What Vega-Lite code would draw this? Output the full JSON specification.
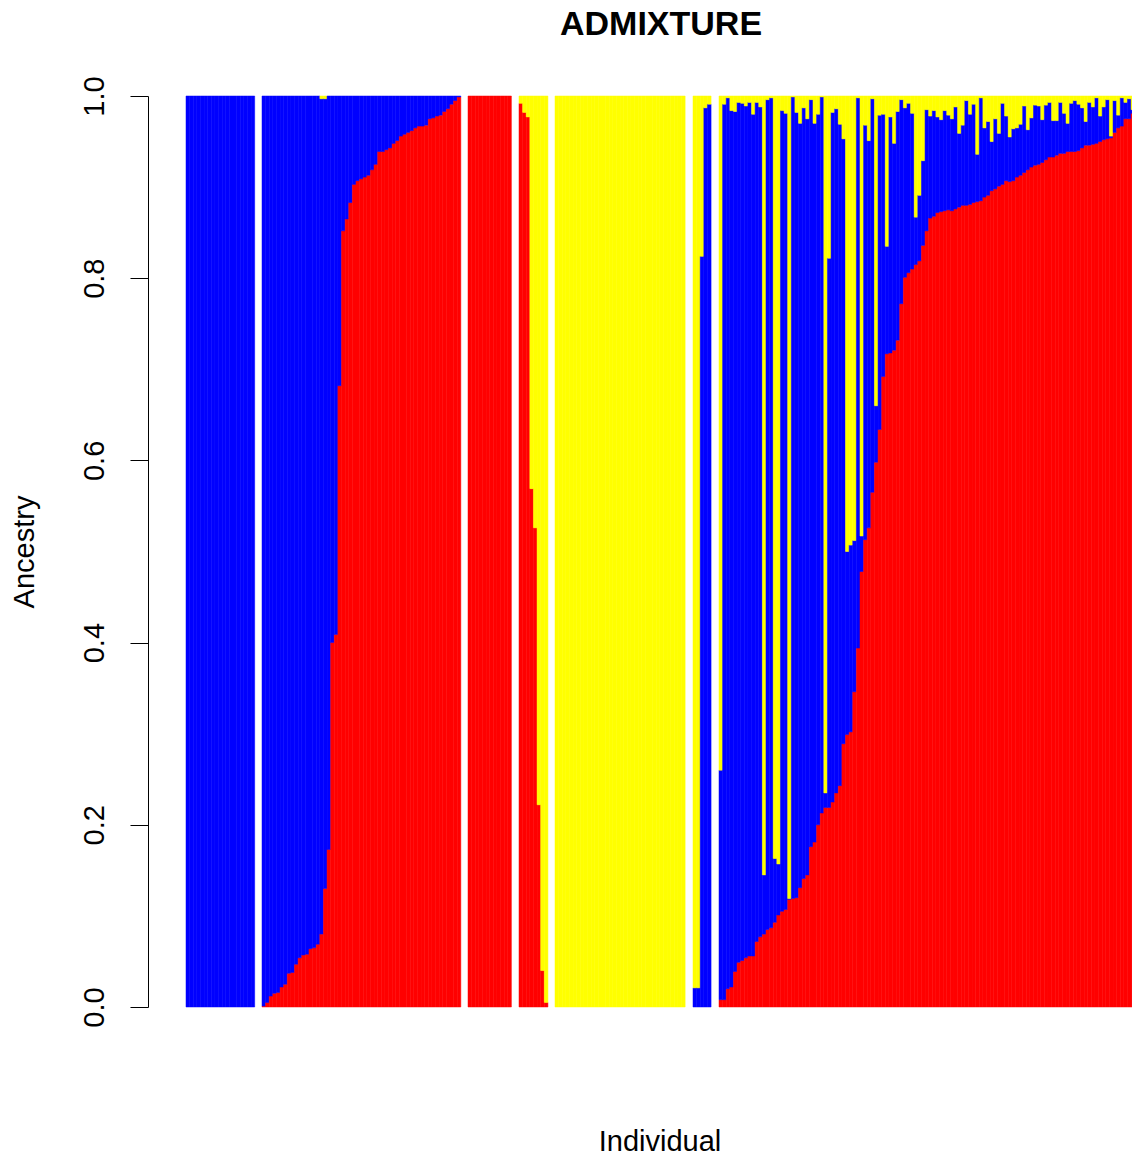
{
  "$schema": "https://vega.github.io/schema/vega-lite/v6.json",
  "padding": {"left": 10, "top": 7, "right": 0, "bottom": 0},
  "autosize": {"type": "pad"},
  "bounds": "flush",
  "title": {"text": "ADMIXTURE", "fontSize": 34, "font": "Liberation Sans", "fontWeight": "bold", "color": "black", "anchor": "middle", "frame": "group", "dx": 475, "offset": 34},
  "data": {"values": [
{"id":1,"g":1,"K1":0,"K2":1,"K3":0},{"id":2,"g":1,"K1":0,"K2":1,"K3":0},{"id":3,"g":1,"K1":0,"K2":1,"K3":0},{"id":4,"g":1,"K1":0,"K2":1,"K3":0},{"id":5,"g":1,"K1":0,"K2":1,"K3":0},{"id":6,"g":1,"K1":0,"K2":1,"K3":0},{"id":7,"g":1,"K1":0,"K2":1,"K3":0},{"id":8,"g":1,"K1":0,"K2":1,"K3":0},{"id":9,"g":1,"K1":0,"K2":1,"K3":0},{"id":10,"g":1,"K1":0,"K2":1,"K3":0},{"id":11,"g":1,"K1":0,"K2":1,"K3":0},{"id":12,"g":1,"K1":0,"K2":1,"K3":0},{"id":13,"g":1,"K1":0,"K2":1,"K3":0},{"id":14,"g":1,"K1":0,"K2":1,"K3":0},{"id":15,"g":1,"K1":0,"K2":1,"K3":0},{"id":16,"g":1,"K1":0,"K2":1,"K3":0},{"id":17,"g":1,"K1":0,"K2":1,"K3":0},{"id":18,"g":1,"K1":0,"K2":1,"K3":0},{"id":19,"g":1,"K1":0,"K2":1,"K3":0},
{"id":20,"g":2,"K1":0.001,"K2":0.999,"K3":0},{"id":21,"g":2,"K1":0.005,"K2":0.995,"K3":0},{"id":22,"g":2,"K1":0.012,"K2":0.988,"K3":0},{"id":23,"g":2,"K1":0.015,"K2":0.985,"K3":0},{"id":24,"g":2,"K1":0.016,"K2":0.984,"K3":0},{"id":25,"g":2,"K1":0.022,"K2":0.978,"K3":0},{"id":26,"g":2,"K1":0.025,"K2":0.975,"K3":0},{"id":27,"g":2,"K1":0.037,"K2":0.963,"K3":0},{"id":28,"g":2,"K1":0.038,"K2":0.962,"K3":0},{"id":29,"g":2,"K1":0.047,"K2":0.953,"K3":0},{"id":30,"g":2,"K1":0.054,"K2":0.946,"K3":0},{"id":31,"g":2,"K1":0.057,"K2":0.943,"K3":0},{"id":32,"g":2,"K1":0.058,"K2":0.942,"K3":0},{"id":33,"g":2,"K1":0.064,"K2":0.936,"K3":0},{"id":34,"g":2,"K1":0.065,"K2":0.935,"K3":0},{"id":35,"g":2,"K1":0.069,"K2":0.931,"K3":0},{"id":36,"g":2,"K1":0.080,"K2":0.917,"K3":0.003},{"id":37,"g":2,"K1":0.130,"K2":0.867,"K3":0.003},{"id":38,"g":2,"K1":0.173,"K2":0.827,"K3":0},{"id":39,"g":2,"K1":0.400,"K2":0.600,"K3":0},{"id":40,"g":2,"K1":0.409,"K2":0.591,"K3":0},{"id":41,"g":2,"K1":0.682,"K2":0.318,"K3":0},{"id":42,"g":2,"K1":0.852,"K2":0.148,"K3":0},{"id":43,"g":2,"K1":0.865,"K2":0.135,"K3":0},{"id":44,"g":2,"K1":0.883,"K2":0.117,"K3":0},{"id":45,"g":2,"K1":0.903,"K2":0.097,"K3":0},{"id":46,"g":2,"K1":0.907,"K2":0.093,"K3":0},{"id":47,"g":2,"K1":0.909,"K2":0.091,"K3":0},{"id":48,"g":2,"K1":0.911,"K2":0.089,"K3":0},{"id":49,"g":2,"K1":0.913,"K2":0.087,"K3":0},{"id":50,"g":2,"K1":0.919,"K2":0.081,"K3":0},{"id":51,"g":2,"K1":0.925,"K2":0.075,"K3":0},{"id":52,"g":2,"K1":0.939,"K2":0.061,"K3":0},{"id":53,"g":2,"K1":0.939,"K2":0.061,"K3":0},{"id":54,"g":2,"K1":0.941,"K2":0.059,"K3":0},{"id":55,"g":2,"K1":0.943,"K2":0.057,"K3":0},{"id":56,"g":2,"K1":0.948,"K2":0.052,"K3":0},{"id":57,"g":2,"K1":0.951,"K2":0.049,"K3":0},{"id":58,"g":2,"K1":0.956,"K2":0.044,"K3":0},{"id":59,"g":2,"K1":0.958,"K2":0.042,"K3":0},{"id":60,"g":2,"K1":0.960,"K2":0.040,"K3":0},{"id":61,"g":2,"K1":0.962,"K2":0.038,"K3":0},{"id":62,"g":2,"K1":0.965,"K2":0.035,"K3":0},{"id":63,"g":2,"K1":0.967,"K2":0.033,"K3":0},{"id":64,"g":2,"K1":0.967,"K2":0.033,"K3":0},{"id":65,"g":2,"K1":0.968,"K2":0.032,"K3":0},{"id":66,"g":2,"K1":0.975,"K2":0.025,"K3":0},{"id":67,"g":2,"K1":0.976,"K2":0.024,"K3":0},{"id":68,"g":2,"K1":0.978,"K2":0.022,"K3":0},{"id":69,"g":2,"K1":0.979,"K2":0.021,"K3":0},{"id":70,"g":2,"K1":0.983,"K2":0.017,"K3":0},{"id":71,"g":2,"K1":0.986,"K2":0.014,"K3":0},{"id":72,"g":2,"K1":0.991,"K2":0.009,"K3":0},{"id":73,"g":2,"K1":0.995,"K2":0.005,"K3":0},{"id":74,"g":2,"K1":0.999,"K2":0.001,"K3":0},
{"id":75,"g":3,"K1":1,"K2":0,"K3":0},{"id":76,"g":3,"K1":1,"K2":0,"K3":0},{"id":77,"g":3,"K1":1,"K2":0,"K3":0},{"id":78,"g":3,"K1":1,"K2":0,"K3":0},{"id":79,"g":3,"K1":1,"K2":0,"K3":0},{"id":80,"g":3,"K1":1,"K2":0,"K3":0},{"id":81,"g":3,"K1":1,"K2":0,"K3":0},{"id":82,"g":3,"K1":1,"K2":0,"K3":0},{"id":83,"g":3,"K1":1,"K2":0,"K3":0},{"id":84,"g":3,"K1":1,"K2":0,"K3":0},{"id":85,"g":3,"K1":1,"K2":0,"K3":0},{"id":86,"g":3,"K1":1,"K2":0,"K3":0},
{"id":87,"g":4,"K1":0.992,"K2":0,"K3":0.008},{"id":88,"g":4,"K1":0.982,"K2":0,"K3":0.018},{"id":89,"g":4,"K1":0.977,"K2":0,"K3":0.023},{"id":90,"g":4,"K1":0.569,"K2":0,"K3":0.431},{"id":91,"g":4,"K1":0.526,"K2":0,"K3":0.474},{"id":92,"g":4,"K1":0.222,"K2":0,"K3":0.778},{"id":93,"g":4,"K1":0.040,"K2":0,"K3":0.960},{"id":94,"g":4,"K1":0.005,"K2":0,"K3":0.995},
{"id":95,"g":5,"K1":0,"K2":0,"K3":1},{"id":96,"g":5,"K1":0,"K2":0,"K3":1},{"id":97,"g":5,"K1":0,"K2":0,"K3":1},{"id":98,"g":5,"K1":0,"K2":0,"K3":1},{"id":99,"g":5,"K1":0,"K2":0,"K3":1},{"id":100,"g":5,"K1":0,"K2":0,"K3":1},{"id":101,"g":5,"K1":0,"K2":0,"K3":1},{"id":102,"g":5,"K1":0,"K2":0,"K3":1},{"id":103,"g":5,"K1":0,"K2":0,"K3":1},{"id":104,"g":5,"K1":0,"K2":0,"K3":1},{"id":105,"g":5,"K1":0,"K2":0,"K3":1},{"id":106,"g":5,"K1":0,"K2":0,"K3":1},{"id":107,"g":5,"K1":0,"K2":0,"K3":1},{"id":108,"g":5,"K1":0,"K2":0,"K3":1},{"id":109,"g":5,"K1":0,"K2":0,"K3":1},{"id":110,"g":5,"K1":0,"K2":0,"K3":1},{"id":111,"g":5,"K1":0,"K2":0,"K3":1},{"id":112,"g":5,"K1":0,"K2":0,"K3":1},{"id":113,"g":5,"K1":0,"K2":0,"K3":1},{"id":114,"g":5,"K1":0,"K2":0,"K3":1},{"id":115,"g":5,"K1":0,"K2":0,"K3":1},{"id":116,"g":5,"K1":0,"K2":0,"K3":1},{"id":117,"g":5,"K1":0,"K2":0,"K3":1},{"id":118,"g":5,"K1":0,"K2":0,"K3":1},{"id":119,"g":5,"K1":0,"K2":0,"K3":1},{"id":120,"g":5,"K1":0,"K2":0,"K3":1},{"id":121,"g":5,"K1":0,"K2":0,"K3":1},{"id":122,"g":5,"K1":0,"K2":0,"K3":1},{"id":123,"g":5,"K1":0,"K2":0,"K3":1},{"id":124,"g":5,"K1":0,"K2":0,"K3":1},{"id":125,"g":5,"K1":0,"K2":0,"K3":1},{"id":126,"g":5,"K1":0,"K2":0,"K3":1},{"id":127,"g":5,"K1":0,"K2":0,"K3":1},{"id":128,"g":5,"K1":0,"K2":0,"K3":1},{"id":129,"g":5,"K1":0,"K2":0,"K3":1},{"id":130,"g":5,"K1":0,"K2":0,"K3":1},
{"id":131,"g":6,"K1":0,"K2":0.021,"K3":0.979},{"id":132,"g":6,"K1":0,"K2":0.021,"K3":0.979},{"id":133,"g":6,"K1":0,"K2":0.824,"K3":0.176},{"id":134,"g":6,"K1":0,"K2":0.987,"K3":0.013},{"id":135,"g":6,"K1":0,"K2":0.991,"K3":0.009},
{"id":136,"g":7,"K1":0.008,"K2":0.252,"K3":0.740},{"id":137,"g":7,"K1":0.008,"K2":0.983,"K3":0.009},{"id":138,"g":7,"K1":0.020,"K2":0.978,"K3":0.002},{"id":139,"g":7,"K1":0.022,"K2":0.962,"K3":0.016},{"id":140,"g":7,"K1":0.039,"K2":0.944,"K3":0.017},{"id":141,"g":7,"K1":0.049,"K2":0.944,"K3":0.007},{"id":142,"g":7,"K1":0.051,"K2":0.941,"K3":0.008},{"id":143,"g":7,"K1":0.054,"K2":0.935,"K3":0.011},{"id":144,"g":7,"K1":0.056,"K2":0.937,"K3":0.007},{"id":145,"g":7,"K1":0.056,"K2":0.924,"K3":0.020},
{"id":146,"g":7,"K1":0.072,"K2":0.921,"K3":0.007},{"id":147,"g":7,"K1":0.077,"K2":0.911,"K3":0.012},{"id":148,"g":7,"K1":0.080,"K2":0.065,"K3":0.855},{"id":149,"g":7,"K1":0.085,"K2":0.911,"K3":0.004},{"id":150,"g":7,"K1":0.087,"K2":0.911,"K3":0.002},{"id":151,"g":7,"K1":0.093,"K2":0.070,"K3":0.837},{"id":152,"g":7,"K1":0.101,"K2":0.056,"K3":0.843},{"id":153,"g":7,"K1":0.105,"K2":0.879,"K3":0.016},{"id":154,"g":7,"K1":0.107,"K2":0.874,"K3":0.019},{"id":155,"g":7,"K1":0.118,"K2":0.001,"K3":0.881},
{"id":156,"g":7,"K1":0.119,"K2":0.880,"K3":0.001},{"id":157,"g":7,"K1":0.120,"K2":0.862,"K3":0.018},{"id":158,"g":7,"K1":0.131,"K2":0.839,"K3":0.030},{"id":159,"g":7,"K1":0.141,"K2":0.846,"K3":0.013},{"id":160,"g":7,"K1":0.145,"K2":0.830,"K3":0.025},{"id":161,"g":7,"K1":0.176,"K2":0.820,"K3":0.004},{"id":162,"g":7,"K1":0.181,"K2":0.789,"K3":0.030},{"id":163,"g":7,"K1":0.200,"K2":0.780,"K3":0.020},{"id":164,"g":7,"K1":0.213,"K2":0.786,"K3":0.001},{"id":165,"g":7,"K1":0.219,"K2":0.016,"K3":0.765},
{"id":166,"g":7,"K1":0.219,"K2":0.603,"K3":0.178},{"id":167,"g":7,"K1":0.225,"K2":0.757,"K3":0.018},{"id":168,"g":7,"K1":0.235,"K2":0.751,"K3":0.014},{"id":169,"g":7,"K1":0.243,"K2":0.726,"K3":0.031},{"id":170,"g":7,"K1":0.289,"K2":0.664,"K3":0.047},{"id":171,"g":7,"K1":0.299,"K2":0.201,"K3":0.500},{"id":172,"g":7,"K1":0.302,"K2":0.205,"K3":0.493},{"id":173,"g":7,"K1":0.346,"K2":0.166,"K3":0.488},{"id":174,"g":7,"K1":0.394,"K2":0.604,"K3":0.002},{"id":175,"g":7,"K1":0.478,"K2":0.039,"K3":0.483},
{"id":176,"g":7,"K1":0.513,"K2":0.455,"K3":0.032},{"id":177,"g":7,"K1":0.526,"K2":0.425,"K3":0.049},{"id":178,"g":7,"K1":0.565,"K2":0.432,"K3":0.003},{"id":179,"g":7,"K1":0.598,"K2":0.062,"K3":0.340},{"id":180,"g":7,"K1":0.634,"K2":0.345,"K3":0.021},{"id":181,"g":7,"K1":0.692,"K2":0.288,"K3":0.020},{"id":182,"g":7,"K1":0.717,"K2":0.118,"K3":0.165},{"id":183,"g":7,"K1":0.718,"K2":0.259,"K3":0.023},{"id":184,"g":7,"K1":0.721,"K2":0.227,"K3":0.052},{"id":185,"g":7,"K1":0.732,"K2":0.251,"K3":0.017},
{"id":186,"g":7,"K1":0.772,"K2":0.224,"K3":0.004},{"id":187,"g":7,"K1":0.801,"K2":0.186,"K3":0.013},{"id":188,"g":7,"K1":0.806,"K2":0.186,"K3":0.008},{"id":189,"g":7,"K1":0.810,"K2":0.171,"K3":0.019},{"id":190,"g":7,"K1":0.815,"K2":0.052,"K3":0.133},{"id":191,"g":7,"K1":0.819,"K2":0.072,"K3":0.109},{"id":192,"g":7,"K1":0.836,"K2":0.093,"K3":0.071},{"id":193,"g":7,"K1":0.852,"K2":0.133,"K3":0.015},{"id":194,"g":7,"K1":0.866,"K2":0.112,"K3":0.022},{"id":195,"g":7,"K1":0.868,"K2":0.116,"K3":0.016},
{"id":196,"g":7,"K1":0.872,"K2":0.105,"K3":0.023},{"id":197,"g":7,"K1":0.873,"K2":0.101,"K3":0.026},{"id":198,"g":7,"K1":0.874,"K2":0.110,"K3":0.016},{"id":199,"g":7,"K1":0.875,"K2":0.104,"K3":0.021},{"id":200,"g":7,"K1":0.874,"K2":0.101,"K3":0.025},{"id":201,"g":7,"K1":0.876,"K2":0.112,"K3":0.012},{"id":202,"g":7,"K1":0.878,"K2":0.081,"K3":0.041},{"id":203,"g":7,"K1":0.880,"K2":0.088,"K3":0.032},{"id":204,"g":7,"K1":0.880,"K2":0.115,"K3":0.005},{"id":205,"g":7,"K1":0.881,"K2":0.099,"K3":0.020},
{"id":206,"g":7,"K1":0.883,"K2":0.108,"K3":0.009},{"id":207,"g":7,"K1":0.884,"K2":0.052,"K3":0.064},{"id":208,"g":7,"K1":0.885,"K2":0.113,"K3":0.002},{"id":209,"g":7,"K1":0.889,"K2":0.076,"K3":0.035},{"id":210,"g":7,"K1":0.891,"K2":0.081,"K3":0.028},{"id":211,"g":7,"K1":0.896,"K2":0.054,"K3":0.050},{"id":212,"g":7,"K1":0.898,"K2":0.077,"K3":0.025},{"id":213,"g":7,"K1":0.901,"K2":0.058,"K3":0.041},{"id":214,"g":7,"K1":0.903,"K2":0.089,"K3":0.008},{"id":215,"g":7,"K1":0.907,"K2":0.071,"K3":0.022},
{"id":216,"g":7,"K1":0.906,"K2":0.049,"K3":0.045},{"id":217,"g":7,"K1":0.907,"K2":0.057,"K3":0.036},{"id":218,"g":7,"K1":0.911,"K2":0.054,"K3":0.035},{"id":219,"g":7,"K1":0.913,"K2":0.056,"K3":0.031},{"id":220,"g":7,"K1":0.916,"K2":0.073,"K3":0.011},{"id":221,"g":7,"K1":0.919,"K2":0.044,"K3":0.037},{"id":222,"g":7,"K1":0.922,"K2":0.054,"K3":0.024},{"id":223,"g":7,"K1":0.924,"K2":0.066,"K3":0.010},{"id":224,"g":7,"K1":0.925,"K2":0.064,"K3":0.011},{"id":225,"g":7,"K1":0.927,"K2":0.047,"K3":0.026},
{"id":226,"g":7,"K1":0.930,"K2":0.060,"K3":0.010},{"id":227,"g":7,"K1":0.933,"K2":0.060,"K3":0.007},{"id":228,"g":7,"K1":0.933,"K2":0.040,"K3":0.027},{"id":229,"g":7,"K1":0.935,"K2":0.038,"K3":0.027},{"id":230,"g":7,"K1":0.937,"K2":0.056,"K3":0.007},{"id":231,"g":7,"K1":0.937,"K2":0.044,"K3":0.019},{"id":232,"g":7,"K1":0.939,"K2":0.031,"K3":0.030},{"id":233,"g":7,"K1":0.939,"K2":0.053,"K3":0.008},{"id":234,"g":7,"K1":0.939,"K2":0.056,"K3":0.005},{"id":235,"g":7,"K1":0.940,"K2":0.051,"K3":0.009},
{"id":236,"g":7,"K1":0.943,"K2":0.044,"K3":0.013},{"id":237,"g":7,"K1":0.946,"K2":0.026,"K3":0.028},{"id":238,"g":7,"K1":0.946,"K2":0.047,"K3":0.007},{"id":239,"g":7,"K1":0.947,"K2":0.041,"K3":0.012},{"id":240,"g":7,"K1":0.948,"K2":0.050,"K3":0.002},{"id":241,"g":7,"K1":0.950,"K2":0.028,"K3":0.022},{"id":242,"g":7,"K1":0.952,"K2":0.036,"K3":0.012},{"id":243,"g":7,"K1":0.953,"K2":0.043,"K3":0.004},{"id":244,"g":7,"K1":0.954,"K2":0.002,"K3":0.044},{"id":245,"g":7,"K1":0.960,"K2":0.035,"K3":0.005},
{"id":246,"g":7,"K1":0.965,"K2":0.014,"K3":0.021},{"id":247,"g":7,"K1":0.967,"K2":0.031,"K3":0.002},{"id":248,"g":7,"K1":0.975,"K2":0.018,"K3":0.007},{"id":249,"g":7,"K1":0.975,"K2":0.022,"K3":0.003},{"id":250,"g":7,"K1":0.981,"K2":0.004,"K3":0.015}
  ]},
  "transform": [
    {"fold": ["K1", "K2", "K3"], "as": ["cluster", "ancestry"]},
    {"filter": "datum.ancestry > 0"}
  ],
  "facet": {"column": {"field": "g", "type": "ordinal", "title": "Individual",
    "header": {"labels": false, "titleOrient": "bottom", "titleFontSize": 29, "titleFont": "Liberation Sans", "titleFontWeight": "normal", "titleColor": "black", "titlePadding": 111}}},
  "spacing": 7,
  "resolve": {"scale": {"x": "independent"}},
  "spec": {
    "width": {"step": 3.615},
    "height": 911,
    "mark": {"type": "bar", "strokeWidth": 0.5},
    "encoding": {
      "x": {"field": "id", "type": "ordinal", "axis": null, "scale": {"paddingInner": 0, "paddingOuter": 0}},
      "y": {"field": "ancestry", "type": "quantitative", "stack": "zero", "scale": {"domain": [0, 1], "nice": false},
        "axis": {"title": "Ancestry", "values": [0, 0.2, 0.4, 0.6, 0.8, 1], "format": ".1f", "grid": false,
          "labelAngle": -90, "labelAlign": "center", "labelBaseline": "bottom", "labelFontSize": 29, "labelFont": "Liberation Sans", "labelColor": "black",
          "labelPadding": 21, "labelFlush": false, "labelOverlap": false,
          "tickSize": 18, "tickColor": "black", "tickWidth": 1, "domainColor": "black", "domainWidth": 1, "offset": 38,
          "titleFontSize": 29, "titleFont": "Liberation Sans", "titleFontWeight": "normal", "titleColor": "black", "titlePadding": 41}},
      "color": {"field": "cluster", "type": "nominal", "scale": {"domain": ["K1", "K2", "K3"], "range": ["#FF0000", "#0000FF", "#FFFF00"]}, "legend": null},
      "stroke": {"field": "cluster", "type": "nominal", "scale": {"domain": ["K1", "K2", "K3"], "range": ["#FF0000", "#0000FF", "#FFFF00"]}, "legend": null},
      "order": {"field": "cluster", "sort": "ascending"}
    }
  },
  "config": {"view": {"stroke": null}, "font": "Liberation Sans"}
}
